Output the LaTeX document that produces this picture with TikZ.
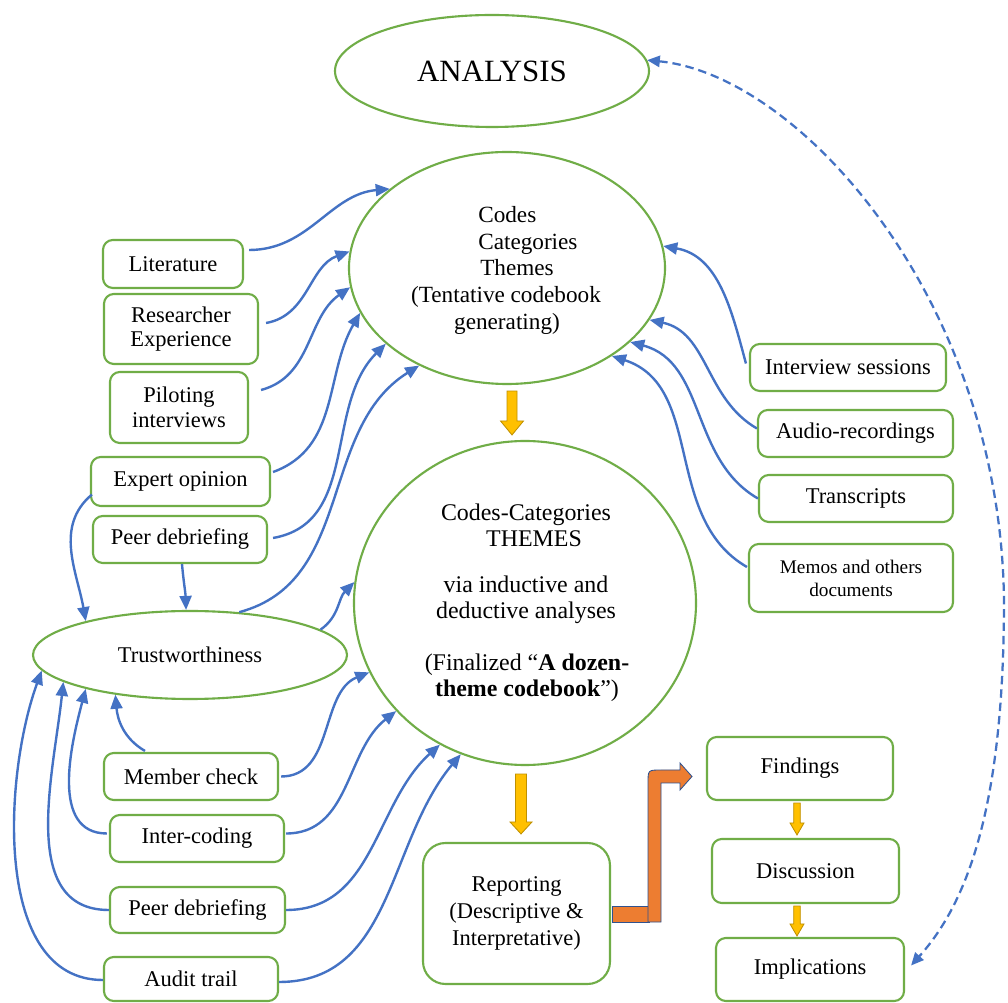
\documentclass[tikz,border=0pt]{standalone}
\usepackage{fontspec}
\setmainfont{Liberation Serif}
\usetikzlibrary{shapes.geometric,arrows.meta,calc}
\definecolor{grn}{RGB}{112,173,71}
\definecolor{blu}{RGB}{68,114,196}
\definecolor{yel}{RGB}{255,192,0}
\definecolor{yeld}{RGB}{191,144,0}
\definecolor{orng}{RGB}{237,125,49}
\definecolor{navy}{RGB}{47,82,143}
% block arrow pointing down: #1 start, #2 tip, #3 half shaft, #4 half head, #5 head length (px)
\newcommand\fatarr[5]{%
  \filldraw[fill=yel,draw=yeld,line width=0.6pt,line join=miter]
    ($(#1)+(-#3,0)$) -- ($(#1)+(#3,0)$) -- ($(#2)+(#3,-#5)$) -- ($(#2)+(#4,-#5)$)
    -- (#2) -- ($(#2)+(-#4,-#5)$) -- ($(#2)+(-#3,-#5)$) -- cycle;}
\begin{document}
\begin{tikzpicture}[x=0.025cm,y=-0.025cm,
  sz/.style 2 args={minimum width=#1*0.025cm,minimum height=#2*0.025cm},
  box/.style={draw=grn,line width=1.5pt,rounded corners=7pt,fill=white,inner sep=0pt,
    align=center,font=\fontsize{16}{17.5}\selectfont},
  ell/.style={ellipse,draw=grn,line width=1.5pt,fill=white,inner sep=0pt,
    font=\fontsize{16}{19}\selectfont},
  ctext/.style={inner sep=0pt,font=\fontsize{16.5}{19}\selectfont},
  circtext/.style={inner sep=0pt,align=center,font=\fontsize{17}{18.3}\selectfont},
  conn/.style={draw=blu,line width=1.7pt,-{Triangle[length=10pt,width=8.5pt]}},
  dconn/.style={draw=blu,line width=1.6pt,dash pattern=on 6pt off 3.5pt,
    {Triangle[length=9pt,width=8pt]}-{Triangle[length=9pt,width=8pt]}}
]
\fill[white] (0,0) rectangle (1008,1003);
\useasboundingbox (0,0) rectangle (1008,1003);

% ellipses
\node[ell,sz={314}{112},font=\fontsize{22}{24}\selectfont] (analysis) at (492,71) {ANALYSIS};
\node[ell,sz={316}{232}] (codes) at (507,268) {};
\node[ell,sz={342}{324}] (circ) at (525,603) {};
\node[ell,sz={314}{88}] (trust) at (190,655) {Trustworthiness};

% text inside codes ellipse
\node[ctext,anchor=base west] (cl1) at (478,223) {Codes};
\node[ctext,anchor=base west] (cl2) at (478,250) {Categories};
\node[ctext,anchor=base west] (cl3) at (480,276) {Themes};
\node[ctext,anchor=base] (cl4) at (506,303) {(Tentative codebook};
\node[ctext,anchor=base] (cl5) at (507,330) {generating)};

% text inside circle
\node[circtext] (g1) at (526,525) {Codes-Categories\\\hspace*{0.4cm}THEMES};
\node[circtext] (g2) at (526,600) {via inductive and\\deductive analyses};
\node[circtext] (g3) at (527,678) {(Finalized “\textbf{A dozen-}\\\textbf{theme codebook}”)};

% left boxes
\node[box,sz={140}{48}] (lit) at (173,264) {Literature};
\node[box,sz={154}{70}] (res) at (181,329) {Researcher\\Experience};
\node[box,sz={138}{71}] (pil) at (179,407.5) {Piloting\\interviews};
\node[box,sz={179}{49}] (exp) at (180.5,481.5) {Expert opinion};
\node[box,sz={174}{47}] (peer1) at (180,539.5) {Peer debriefing};
\node[box,sz={174}{47}] (memb) at (191,776.5) {Member check};
\node[box,sz={174}{47}] (inter) at (197,838.5) {Inter-coding};
\node[box,sz={175}{46}] (peer2) at (197.5,910) {Peer debriefing};
\node[box,sz={174}{44}] (audit) at (191,979) {Audit trail};

% right boxes
\node[box,sz={196}{47}] (intv) at (848,367.5) {Interview sessions};
\node[box,sz={195}{47}] (aud) at (855.5,433.5) {Audio-recordings};
\node[box,sz={194}{47}] (tra) at (856,498.5) {Transcripts};
\node[box,sz={204}{68},font=\fontsize{13.7}{16.4}\selectfont] (memo) at (851,578) {Memos and others\\documents};

% bottom boxes
\node[box,sz={187}{141},rounded corners=16pt,font=\fontsize{16}{19}\selectfont] (rep) at (516.5,913.5) {Reporting\\(Descriptive \&\\Interpretative)};
\node[box,sz={186}{63}] (find) at (800,768.5) {Findings};
\node[box,sz={187}{64}] (disc) at (805.5,871) {Discussion};
\node[box,sz={188}{63}] (impl) at (810,969.5) {Implications};

% left -> codes
\draw[conn] ($(lit.east)+(5,-14)$) to[out=0,in=185] (codes.146);
\draw[conn] ($(res.east)+(7,-6)$) to[out=10,in=200] (codes.174);
\draw[conn] ($(pil.east)+(12,-17.5)$) to[out=15,in=215] (codes.187);
\draw[conn] ($(exp.east)+(2,-9.5)$) to[out=20,in=240] (codes.197);
\draw[conn] ($(peer1.east)+(5,-1.5)$) to[out=10,in=225] (codes.212);
\draw[conn] (trust.41) to[out=15,in=212] (codes.228);

% right -> codes
\draw[conn] ($(intv.west)+(-3,-4)$) to[out=105,in=-10] (codes.8);
\draw[conn] ($(aud.west)+(0,-5)$) to[out=150,in=-12] (codes.340);
\draw[conn] (tra.west) to[out=150,in=-15] (codes.329);
\draw[conn] ($(memo.west)+(-1,-11)$) to[out=150,in=-18] (codes.320);

% into trustworthiness
\draw[conn] ($(exp.west)+(2,13)$) to[out=220,in=100] (trust.162);
\draw[conn] ($(peer1.south)+(2,0)$) to[out=-85,in=92] (trust.95);
\draw[conn] ($(memb.north)+(-46,-1)$) to[out=150,in=-85] (trust.208);
\draw[conn] ($(inter.west)+(-2,-5)$) to[out=180,in=255] (trust.198);
\draw[conn] (peer2.west) to[out=180,in=264] (trust.192);
\draw[conn] ($(audit.west)+(0,1)$) to[out=180,in=250,looseness=0.9] (trust.186);

% into circle
\draw[conn] (trust.11) to[out=35,in=225] (circ.173);
\draw[conn] ($(memb.east)+(2,0)$) to[out=0,in=202] (circ.204);
\draw[conn] ($(inter.east)+(1,-5)$) to[out=0,in=218] (circ.220);
\draw[conn] (peer2.east) to[out=0,in=222] (circ.239);
\draw[conn] ($(audit.east)+(0,3)$) to[out=0,in=230] (circ.247);

% dashed feedback
\draw[dconn] (analysis.4) .. controls (800,75) and (1000,300) .. (1004,600)
  .. controls (1004,800) and (970,900) .. ($(impl.east)+(6,-4)$);

% yellow block arrows
\coordinate (y1s) at ($(codes.south)+(5,6)$);
\coordinate (y1e) at ($(circ.north)+(-13,-5)$);
\coordinate (y2s) at ($(circ.south)+(-4,8)$);
\coordinate (y2e) at ($(rep.north)+(4.5,-8)$);
\coordinate (y3s) at ($(find.south)+(-3,2)$);
\coordinate (y3e) at ($(disc.north)+(-8.5,-3)$);
\coordinate (y4s) at ($(disc.south)+(-8.5,2)$);
\coordinate (y4e) at ($(impl.north)+(-13,-1)$);
\fatarr{y1s}{y1e}{5}{11.5}{14}
\fatarr{y2s}{y2e}{5.5}{11}{12}
\fatarr{y3s}{y3e}{3.3}{7}{12}
\fatarr{y4s}{y4e}{3.3}{7}{12}

% orange bent arrow
\filldraw[fill=orng,draw=navy,line width=0.6pt] ($(rep.east)+(1.5,-7.5)$) rectangle (649,922);
\filldraw[fill=orng,draw=navy,line width=0.6pt,line join=miter]
  (661,922) -- (648,922) -- (648,783) .. controls (648,770) .. (661,770)
  -- (680,770) -- (680,763) -- (692,776.5) -- (680,790) -- (680,783) -- (661,783) -- cycle;
\end{tikzpicture}
\end{document}
